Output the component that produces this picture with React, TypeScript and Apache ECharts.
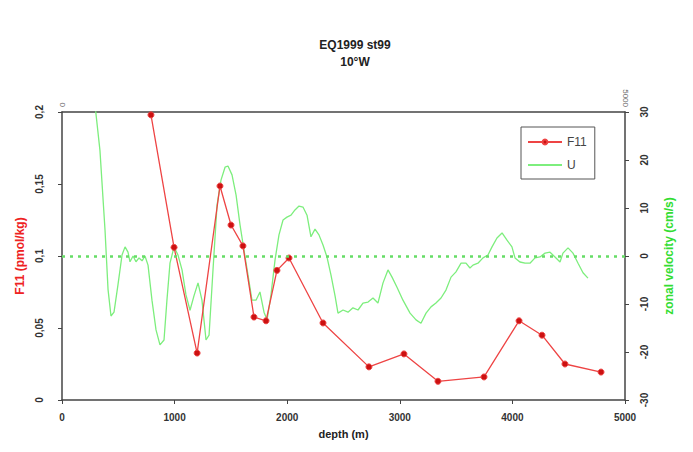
import React, { useEffect, useRef } from "react";
import * as echarts from "echarts";

const titleLines = ["EQ1999 st99", "10°W"];

const f11Depth = [790, 995, 1200, 1403, 1501, 1607, 1705, 1812, 1909, 2016, 2318, 2726, 3037, 3339, 3748, 4059, 4263, 4467, 4787];
const f11Value = [0.198, 0.106, 0.0326, 0.1486, 0.1215, 0.107, 0.0576, 0.055, 0.09, 0.0986, 0.0535, 0.023, 0.032, 0.013, 0.016, 0.055, 0.045, 0.025, 0.0194];

const uDepth = [293, 337, 382, 409, 435, 462, 497, 533, 560, 586, 604, 631, 657, 684, 711, 737, 764, 799, 835, 870, 906, 932, 959, 995, 1030, 1066, 1101, 1137, 1172, 1208, 1243, 1279, 1306, 1341, 1377, 1412, 1448, 1474, 1510, 1546, 1581, 1616, 1652, 1687, 1723, 1758, 1794, 1821, 1856, 1892, 1927, 1963, 1998, 2034, 2069, 2105, 2140, 2176, 2211, 2247, 2282, 2318, 2353, 2389, 2425, 2451, 2496, 2540, 2584, 2629, 2673, 2718, 2762, 2806, 2851, 2895, 2931, 2975, 3028, 3091, 3144, 3188, 3233, 3277, 3321, 3366, 3410, 3455, 3499, 3544, 3588, 3623, 3650, 3694, 3739, 3783, 3819, 3863, 3908, 3952, 3996, 4023, 4067, 4112, 4156, 4201, 4245, 4290, 4334, 4378, 4423, 4449, 4494, 4538, 4583, 4627, 4671];
const uVelocity = [31.5, 22, 5.4, -7, -12.5, -11.7, -6, 0.2, 1.9, 0.8, -1.2, 0, -1.2, -0.4, -1, 0, -1.9, -9.2, -15.4, -18.5, -17.5, -9.2, -1.5, 1.9, 0.2, -2.9, -8.1, -11.3, -8.3, -5.6, -9.2, -17.5, -16.5, -2.9, 10.6, 15.8, 18.5, 18.75, 16.9, 12.7, 6.5, 1.25, -4, -9.2, -9.2, -7.5, -11.7, -13.3, -8.1, -0.8, 4.4, 7.5, 8.1, 8.5, 9.6, 10.4, 10.2, 8.5, 4, 5.6, 4.4, 2.3, -0.2, -4, -8.3, -11.9, -11.25, -11.7, -10.8, -11.25, -9.8, -9.6, -8.75, -9.8, -5.6, -2.9, -4.4, -6.5, -9.2, -11.9, -13.3, -14, -11.9, -10.6, -9.8, -8.75, -7.1, -4.4, -3.3, -1.5, -1.5, -2.5, -1.9, -1.5, -0.4, 0.2, 1.9, 3.75, 4.8, 3.3, 1.9, -0.4, -1.25, -1.5, -1.5, -0.4, -0.2, 0.6, 0.8, -0.2, -1.25, 0.6, 1.7, 0.6, -1.5, -3.5, -4.6];

const zeroLine = 0;

export default function App() {
  const ref = useRef<HTMLDivElement>(null);
  useEffect(() => {
    if (!ref.current) return;
    const chart = echarts.init(ref.current, null, { renderer: "svg" });
    const font = "Liberation Sans, Arial, sans-serif";
    const labelStyle = { fontFamily: font, fontSize: 10, fontWeight: "bold" as const, color: "#333" };
    const axisLine = { show: true, onZero: false, lineStyle: { color: "#444", width: 1.5 } };
    chart.setOption({
      animation: false,
      backgroundColor: "#fff",
      title: {
        text: titleLines.join("\n"),
        left: 350,
        top: 31,
        textAlign: "center",
        textStyle: { fontFamily: font, fontSize: 12, fontWeight: "bold", color: "#222", lineHeight: 17 },
      },
      legend: {
        orient: "vertical",
        left: 521,
        top: 127,
        itemWidth: 34,
        itemHeight: 6,
        itemGap: 11,
        padding: [9, 8, 8, 6],
        borderColor: "#555",
        borderWidth: 1,
        backgroundColor: "#fff",
        textStyle: { fontFamily: font, fontSize: 12, color: "#444" },
        data: [{ name: "F11" }, { name: "U", itemStyle: { opacity: 0 } }],
      },
      grid: { left: 62, right: 68, top: 112, bottom: 52, containLabel: false },
      xAxis: [
        {
          type: "value",
          min: 0,
          max: 5000,
          interval: 1000,
          position: "bottom",
          name: "depth (m)",
          nameLocation: "middle",
          nameGap: 28,
          nameTextStyle: { fontFamily: font, fontSize: 11, fontWeight: "bold", color: "#222" },
          axisLine,
          axisTick: { show: true, length: 4, lineStyle: { color: "#444" } },
          axisLabel: { ...labelStyle, margin: 12, formatter: (v: number) => String(v) },
          splitLine: { show: false },
        },
        {
          type: "value",
          min: 0,
          max: 5000,
          interval: 5000,
          position: "top",
          axisLine,
          axisTick: { show: false },
          axisLabel: { fontFamily: font, fontSize: 8, color: "#666", rotate: 90, margin: 5, formatter: (v: number) => String(v) },
          splitLine: { show: false },
        },
      ],
      yAxis: [
        {
          type: "value",
          min: 0,
          max: 0.2,
          interval: 0.05,
          position: "left",
          name: "F11 (pmol/kg)",
          nameLocation: "middle",
          nameRotate: 90,
          nameGap: 33,
          nameTextStyle: { fontFamily: font, fontSize: 12, fontWeight: "bold", color: "#ee2222" },
          axisLine,
          axisTick: { show: true, length: 4, lineStyle: { color: "#444" } },
          axisLabel: {
            ...labelStyle,
            rotate: 90,
            margin: 18,
            formatter: (v: number) => String(Math.round(v * 100) / 100).replace(".", ","),
          },
          splitLine: { show: false },
        },
        {
          type: "value",
          min: -30,
          max: 30,
          interval: 10,
          position: "right",
          name: "zonal velocity (cm/s)",
          nameLocation: "middle",
          nameRotate: 90,
          nameGap: 38,
          nameTextStyle: { fontFamily: font, fontSize: 12, fontWeight: "bold", color: "#33dd33" },
          axisLine,
          axisTick: { show: true, length: 4, lineStyle: { color: "#444" } },
          axisLabel: { ...labelStyle, rotate: 90, margin: 14 },
          splitLine: { show: false },
        },
      ],
      series: [
        {
          name: "U",
          type: "line",
          xAxisIndex: 0,
          yAxisIndex: 1,
          data: uDepth.map((d, i) => [d, uVelocity[i]]),
          symbol: "none",
          clip: true,
          itemStyle: { color: "#7dee7d" },
          lineStyle: { color: "#7dee7d", width: 1.3 },
          markLine: {
            silent: true,
            symbol: "none",
            label: { show: false },
            lineStyle: { color: "#66dd66", width: 2.5, type: [3, 5] },
            data: [{ yAxis: zeroLine }],
          },
          z: 2,
        },
        {
          name: "F11",
          type: "line",
          xAxisIndex: 0,
          yAxisIndex: 0,
          data: f11Depth.map((d, i) => [d, f11Value[i]]),
          symbol: "circle",
          symbolSize: 6,
          itemStyle: { color: "#cc1111", borderColor: "#ee4444", borderWidth: 1 },
          lineStyle: { color: "#ee4444", width: 1.3 },
          z: 3,
        },
      ],
    });
    return () => chart.dispose();
  }, []);
  return <div ref={ref} style={{ width: 693, height: 452, position: "absolute", left: 0, top: 0 }} />;
}
